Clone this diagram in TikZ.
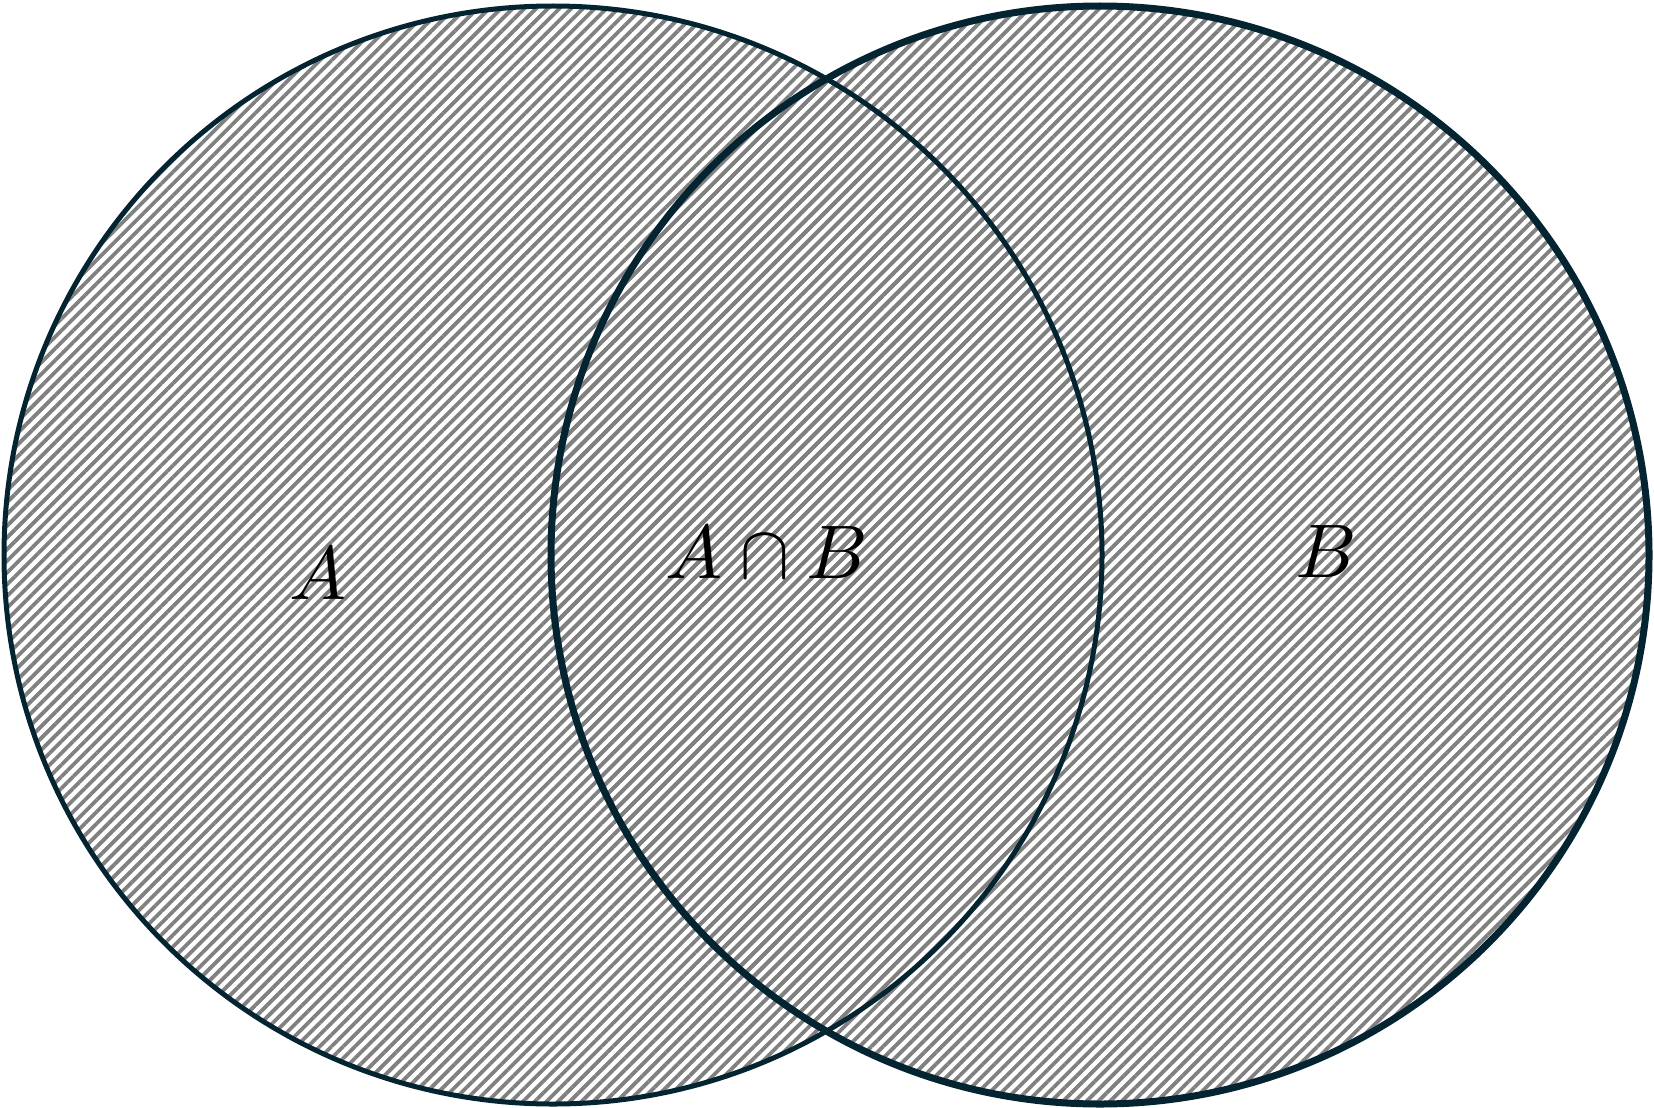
\documentclass[tikz,border=0pt]{standalone}
\usepackage{unicode-math}
\setmathfont{Latin Modern Math}
\usetikzlibrary{patterns.meta}
\definecolor{edge}{RGB}{5,36,50}
\begin{document}
\begin{tikzpicture}[x=1pt,y=-1pt,
  hatch/.style={pattern={Lines[angle=45,distance=8.3pt,line width=3.8pt]},pattern color=gray},
  setcirc/.style={circle,inner sep=0pt,minimum size=1098pt,draw=edge},
  lbl/.style={font=\fontsize{76}{80}\selectfont}]
\useasboundingbox (0,0) rectangle (1654,1108);
\coordinate (ca) at (553,555);
\coordinate (cb) at (1100,555);
\path[hatch] (ca) circle[radius=549];
\path[hatch] (cb) circle[radius=549];
\node[setcirc,line width=5pt] (A) at (ca) {};
\node[setcirc,line width=7pt] (B) at (cb) {};
\node[lbl] (la) at (318,572) {$A$};
\node[lbl] (lab) at (766,552) {$A\cap B$};
\node[lbl] (lb) at (1325,552) {$B$};
\end{tikzpicture}
\end{document}
